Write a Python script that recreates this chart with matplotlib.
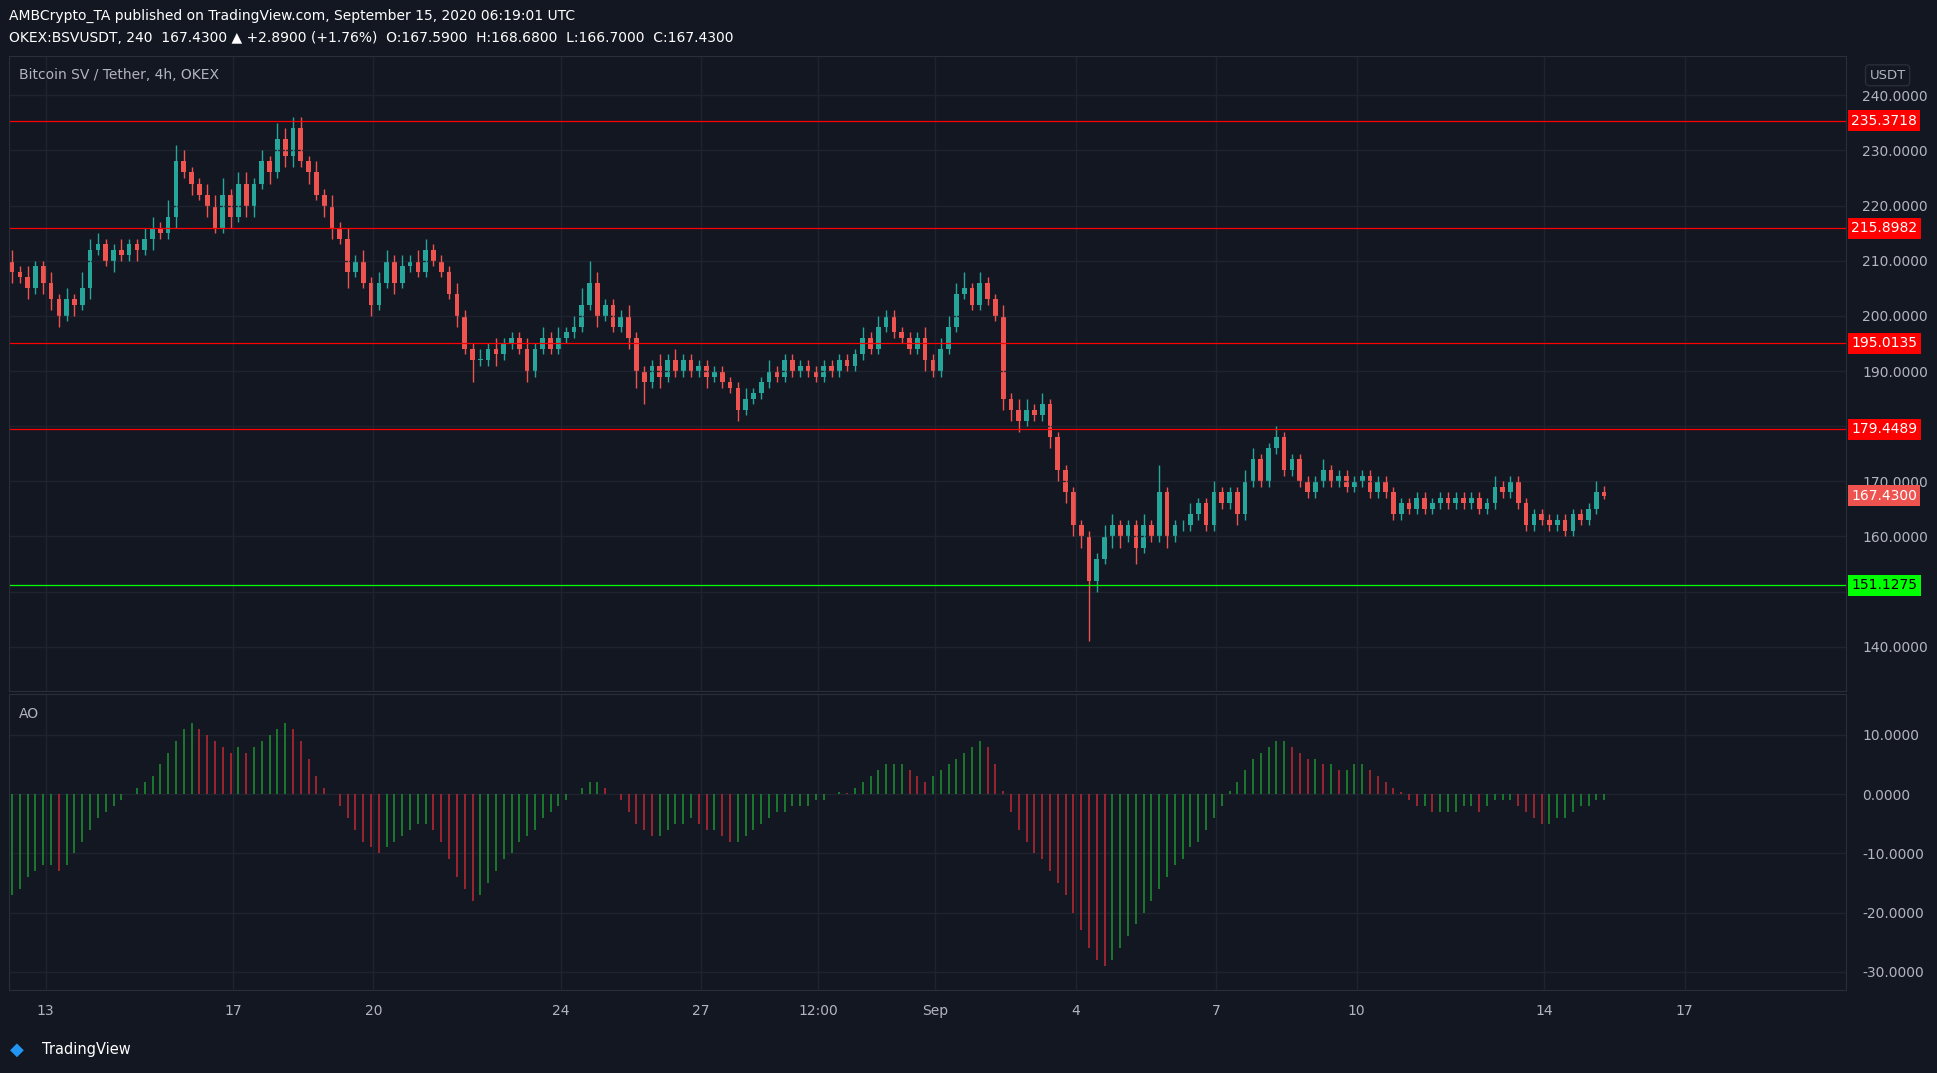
import matplotlib
matplotlib.use("Agg")
import matplotlib.pyplot as plt
from matplotlib.patches import Rectangle

closes = [208,207,205,209,206,203, 200,203,202,205,212,213, 210,212,211,213,212,214,
          216,215,218,228,226,224, 222,220,216,222,218,224, 220,224,228,226,232,229,
          234,228,226,222,220,216, 214,208,210,206,202,206, 210,206,209,210,208,212,
          210,208,204,200,194,192, 192,194,193,195,196,194, 190,194,196,194,196,197,
          198,202,206,200,202,198, 200,196,190,188,191,189, 192,190,192,190,191,189,
          190,188,187,183,185,186, 188,190,189,192,190,191, 190,189,191,190,192,191,
          193,196,194,198,200,197, 196,194,196,192,190,194, 198,204,205,202,206,203,
          200,185,183,181,183,182, 184,178,172,168,162,160, 152,156,160,162,160,162,
          158,162,160,168,160,162, 162,164,166,162,168,166, 168,164,170,174,170,176,
          178,172,174,170,168,170, 172,170,171,169,170,171, 168,170,168,164,166,165,
          167,165,166,167,166,167, 166,167,165,166,169,168, 170,166,162,164,163,162,
          163,161,164,163,165,168, 167.43]
first_open = 210
wick_up = [2,1,2,1,1,2, 1,2,1,3,2,2, 1,1,2,1,1,2, 2,1,3,3,2,1, 1,2,2,3,1,2, 2,1,2,1,3,2,
           2,2,1,2,1,2, 1,2,1,2,1,2, 2,1,2,1,2,2, 1,1,1,2,1,1, 2,1,2,1,1,1, 2,1,2,1,2,1,
           2,3,4,2,1,1, 1,2,1,1,1,2, 1,2,1,1,1,1, 1,1,1,1,2,1, 1,2,1,1,1,1, 1,1,1,1,1,1,
           1,2,1,2,1,1, 1,1,1,2,1,2, 2,2,3,1,2,1, 1,2,1,2,2,1, 2,1,1,1,1,1, 1,1,2,2,1,1,
           1,2,1,5,1,1, 1,2,1,1,2,1, 1,1,2,2,1,1, 2,1,1,1,1,1, 2,1,1,1,1,1, 1,1,1,1,1,1,
           1,1,1,1,1,1, 1,1,1,1,2,1, 1,1,1,1,1,1, 1,1,1,1,1,2, 1.2]
wick_dn = [2,1,2,1,2,2, 2,1,2,1,2,1, 1,2,1,1,2,1, 2,1,1,2,1,2, 1,2,1,1,2,1, 2,2,1,2,1,2,
           2,1,2,1,2,2, 1,3,1,1,2,1, 1,2,1,1,1,1, 1,1,1,2,1,4, 1,1,2,1,1,1, 2,1,1,1,1,1,
           1,1,1,2,1,1, 1,2,3,4,1,2, 1,1,1,1,1,2, 1,1,1,2,1,1, 1,1,1,1,1,1, 1,1,1,1,1,1,
           1,1,1,1,1,1, 1,1,1,2,1,1, 1,1,1,1,1,1, 1,2,2,2,1,1, 1,2,2,2,2,2, 11,2,1,2,2,1,
           3,1,1,1,2,1, 1,1,1,1,1,1, 1,2,1,1,1,1, 1,1,1,1,1,1, 1,1,1,1,1,1, 1,1,1,1,1,1,
           1,1,1,1,1,1, 1,1,1,1,1,1, 1,1,1,1,1,1, 1,1,1,1,1,1, 0.7]
ao = [-17,-16,-14,-13,-12,-12, -13,-12,-10,-8,-6,-4, -3,-2,-1,0,1,2, 3,5,7,9,11,12,
      11,10,9,8,7,8, 7,8,9,10,11,12, 11,9,6,3,1,0, -2,-4,-6,-8,-9,-10, -9,-8,-7,-6,-5,-5,
      -6,-8,-11,-14,-16,-18, -17,-15,-13,-11,-10,-8, -7,-6,-4,-3,-2,-1, 0,1,2,2,1,0,
      -1,-3,-5,-6,-7,-7, -6,-5,-5,-4,-5,-6, -6,-7,-8,-8,-7,-6, -5,-4,-3,-3,-2,-2,
      -2,-1,-1,0,0.3,0.2, 1,2,3,4,5,5, 5,4,3,2,3,4, 5,6,7,8,9,8, 5,0.5,-3,-6,-8,-10,
      -11,-13,-15,-17,-20,-23, -26,-28,-29,-28,-26,-24, -22,-20,-18,-16,-14,-12,
      -11,-9,-8,-6,-4,-2, 0.5,2,4,6,7,8, 9,9,8,7,6,6, 5,5,4,4,5,5, 4,3,2,1,0.3,-1,
      -2,-2,-3,-3,-3,-3, -2,-2,-3,-2,-1,-1, -1,-2,-3,-4,-5,-5, -4,-4,-3,-2,-2,-1, -1]
levels = [235.3718, 215.8982, 195.0135, 179.4489, 151.1275]
level_colors = ["#ff0000", "#ff0000", "#ff0000", "#ff0000", "#00ff00"]
day_ticks = [13, 17, 20, 24, 27, 29.5, 32, 35, 38, 41, 45, 48]
day_labels = ["13", "17", "20", "24", "27", "12:00", "Sep", "4", "7", "10", "14", "17"]
price_ticks = [140, 150, 160, 170, 180, 190, 200, 210, 220, 230, 240]
hidden_price_labels = [150, 180]
ao_ticks = [10, 0, -10, -20, -30]

BG = "#131722"; GRID = "#1f2330"; TXT = "#b2b5be"
UP = "#26a69a"; DN = "#ef5350"
t0 = 12.283
W, H = 1568, 869
fig = plt.figure(figsize=(19.37, 10.73), dpi=100, facecolor=BG)
L, R = 7 / W, 1494 / W
ax = fig.add_axes([L, 1 - 560 / H, R - L, (560 - 45) / H], facecolor=BG)
ax2 = fig.add_axes([L, 1 - 802 / H, R - L, (802 - 562) / H], facecolor=BG)

opens = [first_open] + closes[:-1]
bw = 0.6 / 6
for i, c in enumerate(closes):
    o = opens[i]; x = t0 + i / 6
    col = UP if c >= o else DN
    hi = max(o, c) + wick_up[i]; lo = min(o, c) - wick_dn[i]
    ax.vlines(x, lo, hi, color=col, lw=1)
    ax.add_patch(Rectangle((x - bw / 2, min(o, c)), bw, max(abs(c - o), 0.15), color=col, lw=0))
for lv, lc in zip(levels, level_colors):
    ax.axhline(lv, color=lc, lw=0.9)
for i, v in enumerate(ao):
    prev = ao[i - 1] if i > 0 else v - 1
    col = "#1b8a2f" if v >= prev else "#b22833"
    ax2.vlines(t0 + i / 6, 0, v, color=col, lw=1.2)

xlim = (12.21, 51.44)
for a in (ax, ax2):
    a.set_xlim(*xlim)
    a.set_xticks(day_ticks)
    a.grid(True, color=GRID, lw=1)
    a.tick_params(length=0, colors=TXT, labelsize=10)
    for s in a.spines.values():
        s.set_color("#2a2e39")
    a.yaxis.tick_right()
ax.set_ylim(131.9, 247.2)
ax2.set_ylim(-33.1, 16.9)
ax.set_yticks(price_ticks)
ax.set_yticklabels(["" if p in hidden_price_labels else f"{p:.4f}" for p in price_ticks])
ax2.set_yticks(ao_ticks)
ax2.set_yticklabels([f"{p:.4f}" for p in ao_ticks])
ax.set_xticklabels([])
ax2.set_xticklabels(day_labels)
ax2.tick_params(axis="x", pad=10)
ax.tick_params(axis="y", pad=12)
ax2.tick_params(axis="y", pad=12)

for lv, lc in zip(levels, level_colors):
    ax.text(1.003, lv, f"{lv:.4f}", transform=ax.get_yaxis_transform(), color="white" if lc != "#00ff00" else "black",
            fontsize=10, va="center", ha="left", bbox=dict(boxstyle="square,pad=0.25", fc=lc, ec="none"))
ax.text(1.003, closes[-1], f"{closes[-1]:.4f}", transform=ax.get_yaxis_transform(), color="white",
        fontsize=10, va="center", ha="left", bbox=dict(boxstyle="square,pad=0.25", fc=DN, ec="none"))
fig.text(1528 / W, 1 - 61 / H, "USDT", color=TXT, fontsize=9.5, va="center", ha="center",
         bbox=dict(boxstyle="round,pad=0.3", fc=BG, ec="#2a2e39"))

fig.text(7 / W, 1 - 13 / H, "AMBCrypto_TA published on TradingView.com, September 15, 2020 06:19:01 UTC",
         color="white", fontsize=10, va="center")
fig.text(7 / W, 1 - 31 / H, "OKEX:BSVUSDT, 240  167.4300 ▲ +2.8900 (+1.76%)  O:167.5900  H:168.6800  L:166.7000  C:167.4300",
         color="white", fontsize=10, va="center")
fig.text(15 / W, 1 - 61 / H, "Bitcoin SV / Tether, 4h, OKEX", color=TXT, fontsize=10, va="center")
fig.text(15 / W, 1 - 578 / H, "AO", color=TXT, fontsize=10, va="center")
fig.text(34 / W, 1 - 850 / H, "TradingView", color="white", fontsize=10.5, va="center")
fig.text(8 / W, 1 - 850 / H, "◆", color="#2196f3", fontsize=13, va="center")
fig.savefig("out.png", dpi=100, facecolor=BG)
